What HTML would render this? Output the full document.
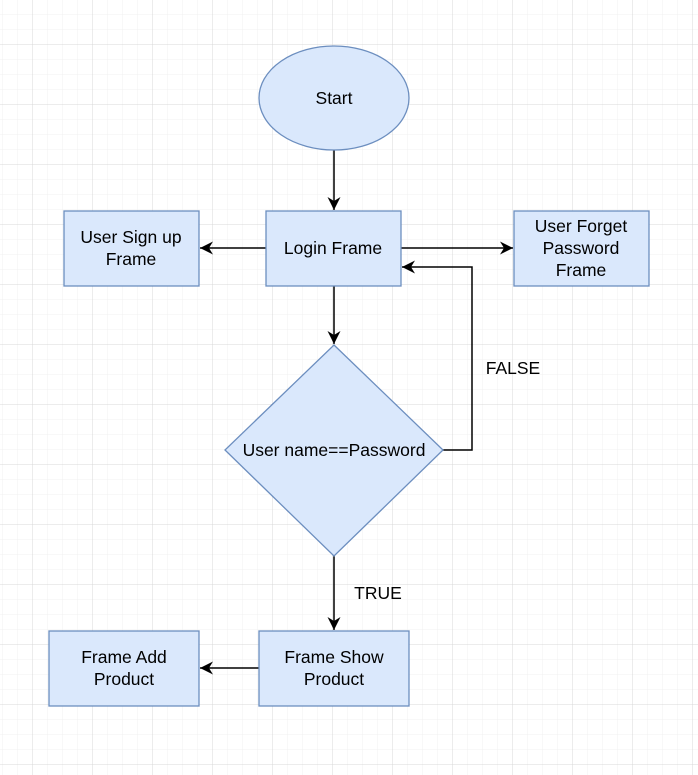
<!DOCTYPE html>
<html><head><style>
body{margin:0;width:698px;height:775px;overflow:hidden;background:#fff}
svg{display:block}
text{font-family:"Liberation Sans",Arial,sans-serif;font-size:17.5px;fill:#000;text-anchor:middle}
</style></head><body>
<svg width="698" height="775" viewBox="0 0 698 775">
<defs>
<pattern id="mi" width="15" height="15" patternUnits="userSpaceOnUse" x="2" y="14">
<path d="M0 0H15M0 0V15" stroke="#f0f0f0" stroke-width="1" fill="none"/>
</pattern>
<pattern id="ma" width="60" height="60" patternUnits="userSpaceOnUse" x="32" y="44">
<path d="M0 0H60M0 0V60" stroke="#d8d8d8" stroke-width="1" fill="none"/>
</pattern>
<marker id="ar" markerWidth="14" markerHeight="14" refX="13" refY="6.5" orient="auto" markerUnits="userSpaceOnUse">
<path d="M0 0L13 6.5L0 13L4 6.5Z" fill="#000"/>
</marker>
</defs>
<rect width="698" height="775" fill="url(#mi)"/>
<rect width="698" height="775" fill="url(#ma)"/>
<g stroke="#000" stroke-width="1.5" fill="none">
<path d="M334 150V210" marker-end="url(#ar)"/>
<path d="M266 248H200" marker-end="url(#ar)"/>
<path d="M401 248H513" marker-end="url(#ar)"/>
<path d="M334 286V344" marker-end="url(#ar)"/>
<path d="M443 450H472V267H402" marker-end="url(#ar)"/>
<path d="M334 556V630" marker-end="url(#ar)"/>
<path d="M259 668H200" marker-end="url(#ar)"/>
</g>
<g fill="#dae8fc" stroke="#6c8ebf" stroke-width="1.3">
<ellipse cx="334" cy="98" rx="75" ry="52"/>
<rect x="266" y="211" width="135" height="75"/>
<rect x="64" y="211" width="135" height="75"/>
<rect x="514" y="211" width="135" height="75"/>
<path d="M334 345L443 450L334 556L225 450Z"/>
<rect x="259" y="631" width="150" height="75"/>
<rect x="49" y="631" width="150" height="75"/>
</g>
<text x="334" y="104">Start</text>
<text x="333" y="254">Login Frame</text>
<text x="131" y="243">User Sign up</text>
<text x="131" y="265">Frame</text>
<text x="581" y="232">User Forget</text>
<text x="581" y="254">Password</text>
<text x="581" y="276">Frame</text>
<text x="334" y="456">User name==Password</text>
<text x="334" y="663">Frame Show</text>
<text x="334" y="685">Product</text>
<text x="124" y="663">Frame Add</text>
<text x="124" y="685">Product</text>
<text x="513" y="374">FALSE</text>
<text x="378" y="599">TRUE</text>
</svg>
</body></html>
